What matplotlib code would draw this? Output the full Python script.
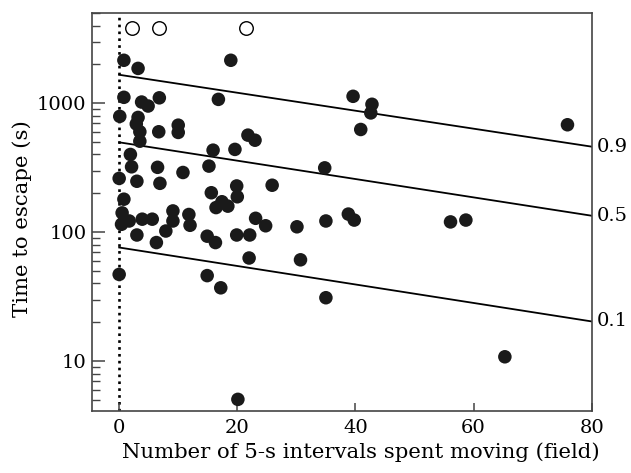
import matplotlib
matplotlib.use("Agg")
import matplotlib.pyplot as plt
from matplotlib.ticker import LogLocator, FixedLocator, NullFormatter

# ---- data ----
moving = [0.8, 3.2, 18.9, 0.8, 3.8, 4.9, 6.8, 16.8, 0.1, 3.2, 2.9, 3.5, 6.7, 10.0, 10.0,
          3.5, 1.9, 15.9, 19.6, 21.8, 23.0, 2.1, 0.0, 3.0, 6.5, 6.9, 10.8, 15.2, 19.9,
          25.9, 0.8, 15.6, 17.4, 16.4, 18.4, 20.0, 0.5, 0.4, 1.7, 3.9, 5.6, 9.1, 9.1,
          11.8, 12.0, 23.1, 24.8, 3.0, 6.3, 7.9, 14.9, 16.3, 19.9, 22.1, 22.0, 0.0,
          14.9, 17.2, 20.1, 39.6, 42.8, 42.6, 40.9, 75.9, 34.8, 30.1, 35.0, 38.8, 39.8,
          56.1, 58.7, 30.7, 35.0, 65.3]
escape = [2150, 1860, 2150, 1110, 1020, 950, 1100, 1070, 790, 775, 690, 600, 600, 675, 593,
          507, 400, 432, 438, 565, 516, 321, 261, 248, 318, 239, 290, 325, 228,
          231, 180, 202, 172, 155, 159, 188, 141, 115, 122, 126, 126, 146, 122,
          137, 113, 128, 112, 95, 83, 102, 93, 83, 95, 95, 63, 47,
          46, 37, 5.05, 1130, 980, 840, 625, 680, 315, 110, 122, 138, 124,
          120, 124, 61, 31, 10.8]

censored_moving = [2.2, 6.8, 21.4]
censored_escape = [3840, 3840, 3840]

line_x = [0, 80]
q90 = [1660, 460]
q50 = [497, 134]
q10 = [76, 20.3]
quantile_labels = ["0.9", "0.5", "0.1"]

xticks = [0, 20, 40, 60, 80]
yticks = [10, 100, 1000]

# ---- figure ----
font = ["DejaVu Serif"]
plt.rcParams["font.family"] = font
FS = 14
LFS = 15.3

fig = plt.figure(figsize=(6.31, 4.73), dpi=100)
ax = fig.add_axes([0.1458, 0.131, 0.7919, 0.8415])

ax.set_yscale("log")
ax.set_xlim(-4.6, 80)
ax.set_ylim(4.1, 5000)

ax.axvline(0, color="black", lw=1.9, linestyle=(0, (1, 1.6)), zorder=1)

for q in (q90, q50, q10):
    ax.plot(line_x, q, color="black", lw=1.3, zorder=2)

ax.scatter(moving, escape, s=95, color="#1a1a1a", edgecolors="none", zorder=3)
ax.scatter(censored_moving, censored_escape, s=95, facecolors="white",
           edgecolors="black", linewidths=1.0, zorder=3)

for q, lab in zip((q90, q50, q10), quantile_labels):
    ax.annotate(lab, xy=(line_x[-1], q[-1]), xytext=(4, 0), textcoords="offset points",
                ha="left", va="center", fontsize=FS, annotation_clip=False)

ax.xaxis.set_major_locator(FixedLocator(xticks))
ax.set_xticklabels([str(t) for t in xticks])
ax.yaxis.set_major_locator(FixedLocator(yticks))
ax.set_yticklabels([str(t) for t in yticks])
ax.yaxis.set_minor_locator(LogLocator(base=10, subs=range(2, 10)))
ax.yaxis.set_minor_formatter(NullFormatter())

ax.tick_params(axis="both", which="major", direction="in", labelsize=FS, color="#444444")
ax.tick_params(axis="y", which="major", length=9, width=1.1, pad=4)
ax.tick_params(axis="y", which="minor", direction="in", length=5.5, width=1.0, color="#444444")
ax.tick_params(axis="x", which="major", length=5.5, width=1.1, pad=6)
ax.tick_params(right=False, top=False)

for s in ax.spines.values():
    s.set_color("#444444")
    s.set_linewidth(1.2)

ax.set_xlabel("Number of 5-s intervals spent moving (field)", fontsize=LFS)
ax.set_ylabel("Time to escape (s)", fontsize=LFS)
ax.xaxis.set_label_coords(0.538, -0.078)
ax.yaxis.set_label_coords(-0.12, 0.484)

fig.savefig("out.png", dpi=100)
